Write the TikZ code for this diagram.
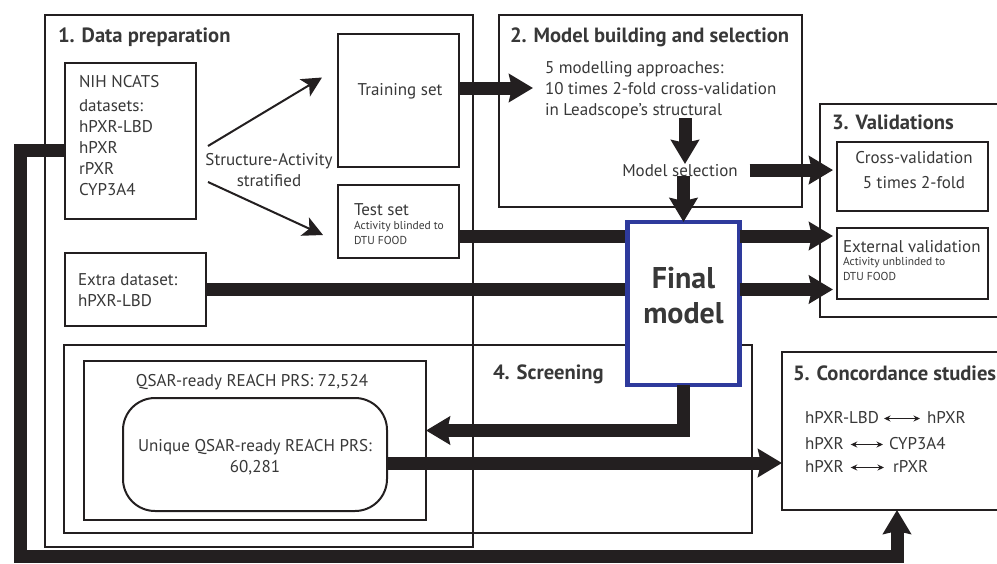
\documentclass[tikz,border=0pt]{standalone}
\usepackage{fontspec}
\setmainfont{PT Sans}
\usetikzlibrary{arrows.meta,calc}

\definecolor{ink}{HTML}{231F20}
\definecolor{txt}{HTML}{383838}
\definecolor{finalblue}{HTML}{2E3A9C}

\begin{document}
\begin{tikzpicture}[x=1pt,y=-1pt,
  every node/.style={text=txt, inner sep=0pt, outer sep=0pt},
  frame/.style={draw=ink, line width=2.4pt, anchor=north west},
  box/.style={draw=ink, line width=2.4pt, fill=white, anchor=north west},
  title/.style={font=\fontsize{20.6}{24}\selectfont\bfseries, anchor=base west},
  body/.style={font=\fontsize{17}{21}\selectfont},
  small/.style={font=\fontsize{11.5}{15}\selectfont},
  flow/.style={draw=ink, line width=13pt, -{Stealth[length=24pt,width=28pt,inset=3pt]}},
  bar/.style={draw=ink, line width=13pt},
  thinarrow/.style={draw=ink, line width=2pt, -{Stealth[length=20pt,width=20pt,inset=5pt]}},
  pair/.style={draw=ink, line width=1.4pt, {Stealth[length=6.5pt,width=6pt]}-{Stealth[length=6.5pt,width=6pt]}}
]
\useasboundingbox (0,0) rectangle (997,563);
\fill[white] (0,0) rectangle (997,563);

% ---- stage frames ----
\node[frame, minimum width=428pt, minimum height=532pt] (prep) at (45,15) {};
\node[frame, minimum width=303pt, minimum height=192pt] (build) at (499,15) {};
\node[frame, minimum width=200pt, minimum height=213pt] (valid) at (820,104) {};
\node[frame, minimum width=688pt, minimum height=188pt] (screen) at (64,345) {};
\node[frame, minimum width=230pt, minimum height=158pt] (conc) at (782,352) {};

\node[title] (t1) at (58,42) {1. Data preparation};
\node[title] (t2) at (510,42) {2. Model building and selection};
\node[title] (t3) at (832,129) {3. Validations};
\node[title] (t4) at (493,379) {4. Screening};
\node[title] (t5) at (793,380) {5. Concordance studies};

% ---- data preparation ----
\node[box, minimum width=131pt, minimum height=156pt] (nih) at (65,63) {};
\node[body, align=left, anchor=base west] (nihtext) at (79,195)
  {NIH NCATS\\[3pt]datasets:\\hPXR-LBD\\hPXR\\rPXR\\CYP3A4};

\node[box, minimum width=121pt, minimum height=133pt] (train) at (338,34) {};
\node[body, anchor=base] (traintext) at (400,95) {Training set};

\node[box, minimum width=121pt, minimum height=73pt] (test) at (338,185) {};
\node[body, anchor=base west] (testtext) at (354,215) {Test set};
\node[small, align=left, anchor=base west] (testnote) at (354,244) {Activity blinded to\\DTU FOOD};

\node[body, align=center, anchor=base] (strat) at (269,186) {Structure-Activity\\stratified};

\node[box, minimum width=141pt, minimum height=73pt] (extra) at (65,253) {};
\node[body, align=left, anchor=base west] (extratext) at (78,306) {Extra dataset:\\hPXR-LBD};

\coordinate (sa1) at (208,146);
\coordinate (sa2) at (208,182);
\draw[thinarrow] (sa1) -- ($(train.west)+(-16,-23)$);
\draw[thinarrow] (sa2) -- ($(test.west)+(-15,13.5)$);

% ---- model building ----
\node[body, align=left, anchor=base west] (modtext) at (545,115)
  {5 modelling approaches:\\10 times 2-fold cross-validation\\in Leadscope's structural};
\coordinate (modin) at (533,88);
\node[body, anchor=base] (modsel) at (680,176) {Model selection};

% ---- validations ----
\node[box, minimum width=151pt, minimum height=69pt] (cv) at (837,142) {};
\node[body, align=center, anchor=base] (cvtext) at (914,188) {Cross-validation\\[4pt]5 times 2-fold};
\node[box, minimum width=151pt, minimum height=71pt] (ext) at (837,228) {};
\node[body, anchor=base west] (exttext) at (843,252) {External validation};
\node[small, align=left, anchor=base west] (extnote) at (843,280) {Activity unblinded to\\DTU FOOD};

% ---- screening ----
\node[box, minimum width=342pt, minimum height=159pt] (qsar) at (84,361) {};
\node[body, anchor=base] (qsartext) at (252,386) {QSAR-ready REACH PRS: 72,524};
\node[draw=ink, line width=2pt, fill=white, rounded corners=32pt, anchor=north west,
      minimum width=264pt, minimum height=113pt] (uniq) at (123,398) {};
\node[body, align=center, anchor=base] (uniqtext) at (255,472) {Unique QSAR-ready REACH PRS:\\60,281};

% ---- concordance ----
\node[body, anchor=base west] (c1a) at (805,423) {hPXR-LBD};
\node[body, anchor=base west] (c1b) at (927,423) {hPXR};
\node[body, anchor=base west] (c2a) at (805,449) {hPXR};
\node[body, anchor=base west] (c2b) at (889,449) {CYP3A4};
\node[body, anchor=base west] (c3a) at (805,472) {hPXR};
\node[body, anchor=base west] (c3b) at (893,472) {rPXR};
\draw[pair, shorten <=5pt, shorten >=7pt] ([yshift=2pt]c1a.mid east) -- ([yshift=2pt]c1b.mid west);
\draw[pair, shorten <=7pt, shorten >=6pt] ([yshift=2pt]c2a.mid east) -- ([yshift=2pt]c2b.mid west);
\draw[pair, shorten <=7pt, shorten >=9pt] ([yshift=2pt]c3a.mid east) -- ([yshift=2pt]c3b.mid west);

% ---- thick flows ----
\coordinate (fbTop) at (20,150);
\coordinate (fbBot) at (20,556);
\draw[flow] (nih.west |- fbTop) -- (fbTop) -- (fbBot) -| (conc.south);

\draw[flow] (train.east |- modin) -- (modin);
\draw[flow] (modtext.south -| 685,0) -- (modsel.north -| 685,0);
\draw[flow, shorten <=12pt, shorten >=4pt] (modsel.east) -- (cv.west |- modsel.east);

\coordinate (tl) at ($(test.east)+(0,14.5)$);
\draw[bar] (tl) -- (tl -| 630,0);
\draw[bar] (extra.east) -- (extra.east -| 630,0);

% ---- final model ----
\node[draw=finalblue, line width=4.5pt, fill=white, anchor=north west,
      minimum width=112pt, minimum height=163pt] (final) at (627.5,222) {};
\node[font=\fontsize{30}{35}\selectfont\bfseries, align=center, anchor=base] (finaltext) at (683.5,323) {Final\\model};

\draw[flow] (modsel.south -| final.north) -- (final.north);
\draw[flow, shorten >=4pt] (final.east |- tl) -- (ext.west |- tl);
\draw[flow, shorten >=4pt] (final.east |- extra.east) -- (ext.west |- extra.east);
\draw[flow] (final.south) |- ([yshift=10pt]qsar.east);
\draw[flow] ([yshift=-8.5pt]uniq.east) -- (conc.west |- 0,463);
\end{tikzpicture}
\end{document}
